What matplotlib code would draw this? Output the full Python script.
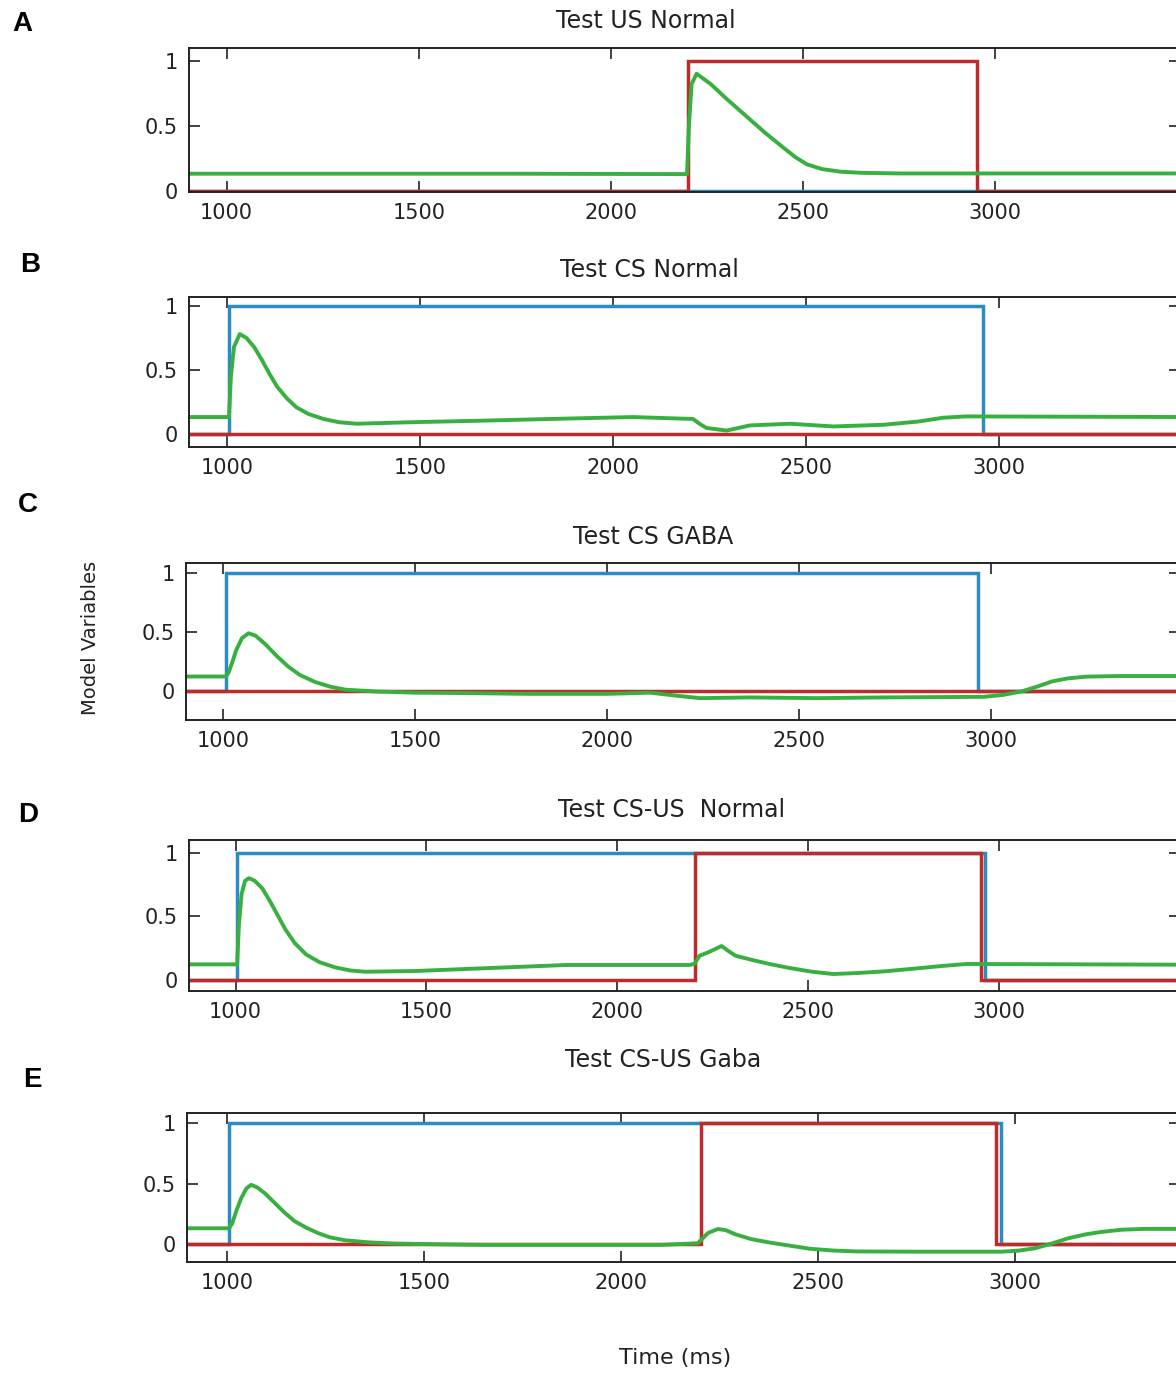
import matplotlib
matplotlib.use('Agg')
import matplotlib.pyplot as plt

plt.rcParams['font.family'] = ['DejaVu Sans']

# panel titles and letters
letters = ['A', 'B', 'C', 'D', 'E']
titles = ['Test US Normal', 'Test CS Normal', 'Test CS GABA', 'Test CS-US  Normal', 'Test CS-US Gaba']

# CS (blue) and US (red) step onsets / offsets in ms, None = absent
cs_on = [None, 1005, 1008, 1004, 1004]
cs_off = [None, 2958, 2966, 2963, 2965]
us_on = [2200, None, None, 2203, 2202]
us_off = [2952, None, None, 2954, 2952]

# green model variable
green_t_a = [850, 1750, 2198, 2203, 2210, 2223, 2260, 2300, 2350, 2400, 2450, 2480, 2510, 2550,
             2600, 2650, 2750, 3500]
green_v_a = [0.133, 0.133, 0.13, 0.5, 0.82, 0.90, 0.82, 0.71, 0.58, 0.45, 0.33, 0.26, 0.205, 0.168,
             0.148, 0.14, 0.135, 0.135]

green_t_b = [850, 1005, 1010, 1018, 1033, 1050, 1070, 1090, 1110, 1130, 1155, 1180, 1210, 1250, 1290,
             1335, 1491, 1663, 1836, 2051, 2207, 2225, 2242, 2294, 2354, 2458, 2570, 2700, 2790, 2855,
             2915, 3500]
green_v_b = [0.135, 0.135, 0.45, 0.68, 0.78, 0.75, 0.68, 0.58, 0.47, 0.37, 0.28, 0.21, 0.16, 0.12, 0.095,
             0.083, 0.096, 0.107, 0.12, 0.135, 0.12, 0.08, 0.05, 0.03, 0.07, 0.083, 0.062, 0.075, 0.10, 0.13,
             0.14, 0.135]

green_t_c = [850, 1008, 1015, 1025, 1035, 1050, 1067, 1085, 1110, 1140, 1170, 1200, 1240, 1280, 1320,
             1400, 1500, 1618, 1800, 2000, 2113, 2180, 2243, 2373, 2547, 2720, 2981, 3030, 3080, 3120,
             3160, 3200, 3250, 3330, 3500]
green_v_c = [0.126, 0.126, 0.16, 0.25, 0.35, 0.45, 0.49, 0.47, 0.40, 0.30, 0.21, 0.14, 0.08, 0.04, 0.015,
             0.0, -0.01, -0.013, -0.02, -0.02, -0.01, -0.035, -0.056, -0.05, -0.056, -0.05, -0.045, -0.03,
             0.0, 0.04, 0.085, 0.11, 0.125, 0.13, 0.13]

green_t_d = [850, 1004, 1009, 1016, 1025, 1035, 1050, 1070, 1090, 1110, 1130, 1155, 1185, 1220, 1260,
             1300, 1340, 1474, 1649, 1867, 2085, 2190, 2203, 2215, 2240, 2273, 2290, 2310, 2350, 2400,
             2450, 2510, 2566, 2630, 2700, 2780, 2850, 2915, 3500]
green_v_d = [0.123, 0.123, 0.45, 0.68, 0.78, 0.80, 0.78, 0.72, 0.62, 0.51, 0.40, 0.29, 0.20, 0.14, 0.10,
             0.075, 0.065, 0.071, 0.092, 0.118, 0.118, 0.118, 0.13, 0.19, 0.22, 0.267, 0.23, 0.19, 0.16,
             0.125, 0.095, 0.065, 0.047, 0.055, 0.068, 0.09, 0.11, 0.126, 0.12]

green_t_e = [850, 1004, 1012, 1022, 1035, 1048, 1060, 1075, 1095, 1120, 1145, 1170, 1200, 1230, 1260,
             1300, 1360, 1420, 1482, 1651, 2102, 2194, 2205, 2220, 2245, 2265, 2290, 2330, 2380, 2430,
             2480, 2541, 2600, 2753, 2965, 3010, 3050, 3090, 3135, 3180, 3220, 3270, 3330, 3500]
green_v_e = [0.13, 0.13, 0.17, 0.27, 0.38, 0.46, 0.49, 0.47, 0.42, 0.34, 0.26, 0.19, 0.135, 0.09, 0.055,
             0.03, 0.013, 0.004, 0.0, -0.008, -0.008, 0.006, 0.04, 0.09, 0.124, 0.115, 0.08, 0.04, 0.01,
             -0.015, -0.04, -0.055, -0.062, -0.064, -0.064, -0.055, -0.036, 0.0, 0.047, 0.08, 0.10, 0.118,
             0.125, 0.125]

green_t = [green_t_a, green_t_b, green_t_c, green_t_d, green_t_e]
green_v = [green_v_a, green_v_b, green_v_c, green_v_d, green_v_e]

# axis limits per panel
xlims = [(902, 3481), (901.5, 3468), (904, 3493), (878, 3474), (898, 3419)]
ylims = [(-0.005, 1.095), (-0.10, 1.07), (-0.24, 1.084), (-0.084, 1.10), (-0.147, 1.088)]

# layout in pixels: left, top, bottom (right edge runs just past the image)
W, H = 1176, 1374
boxes = [(189, 48.3, 191.7), (189, 296.7, 447.3), (186, 562.7, 720), (189, 840, 990.7), (187.3, 1112.7, 1261.7)]
right_px = 1180
title_xy = [(646, 21), (649, 270), (653, 537), (672, 810), (663, 1060)]
letter_xy = [(22, 24), (30, 265), (28, 505), (28, 815), (32, 1080)]

BLUE = '#2b8cc4'
RED = '#bd2b2b'
GREEN = '#38b040'


def step(on, off, t0=850, t1=3500):
    if on is None:
        return [t0, t1], [0, 0]
    return [t0, on, on, off, off, t1], [0, 0, 1, 1, 0, 0]


fig = plt.figure(figsize=(W / 100, H / 100), dpi=100)

for i in range(5):
    left, top, bottom = boxes[i]
    ax = fig.add_axes([left / W, 1 - bottom / H, (right_px - left) / W, (bottom - top) / H])

    bt, bv = step(cs_on[i], cs_off[i])
    rt, rv = step(us_on[i], us_off[i])
    ax.plot(bt, bv, color=BLUE, lw=2.5, solid_joinstyle='miter')
    ax.plot(rt, rv, color=RED, lw=2.5, solid_joinstyle='miter')
    ax.plot(green_t[i], green_v[i], color=GREEN, lw=2.8)

    ax.set_xlim(*xlims[i])
    ax.set_ylim(*ylims[i])
    ax.set_xticks([1000, 1500, 2000, 2500, 3000])
    ax.set_yticks([0, 0.5, 1])
    ax.set_yticklabels(['0', '0.5', '1'])
    ax.tick_params(direction='in', top=True, right=True, length=8, width=1.2,
                   labelsize=15, pad=8, colors='#222222')
    for s in ax.spines.values():
        s.set_linewidth(1.4)
        s.set_color('#222222')

    tx, ty = title_xy[i]
    fig.text(tx / W, 1 - ty / H, titles[i], ha='center', va='center', fontsize=17, color='#222222')
    lx, ly = letter_xy[i]
    fig.text(lx / W, 1 - ly / H, letters[i], ha='center', va='center', fontsize=20,
             fontweight='bold', color='black', family='Liberation Sans')

fig.text(90 / W, 1 - 638 / H, 'Model Variables', rotation=90, ha='center', va='center',
         fontsize=14, color='#222222')
fig.text(675 / W, 1 - 1358 / H, 'Time (ms)', ha='center', va='center', fontsize=16, color='#222222')

fig.savefig('out.png', dpi=100)
